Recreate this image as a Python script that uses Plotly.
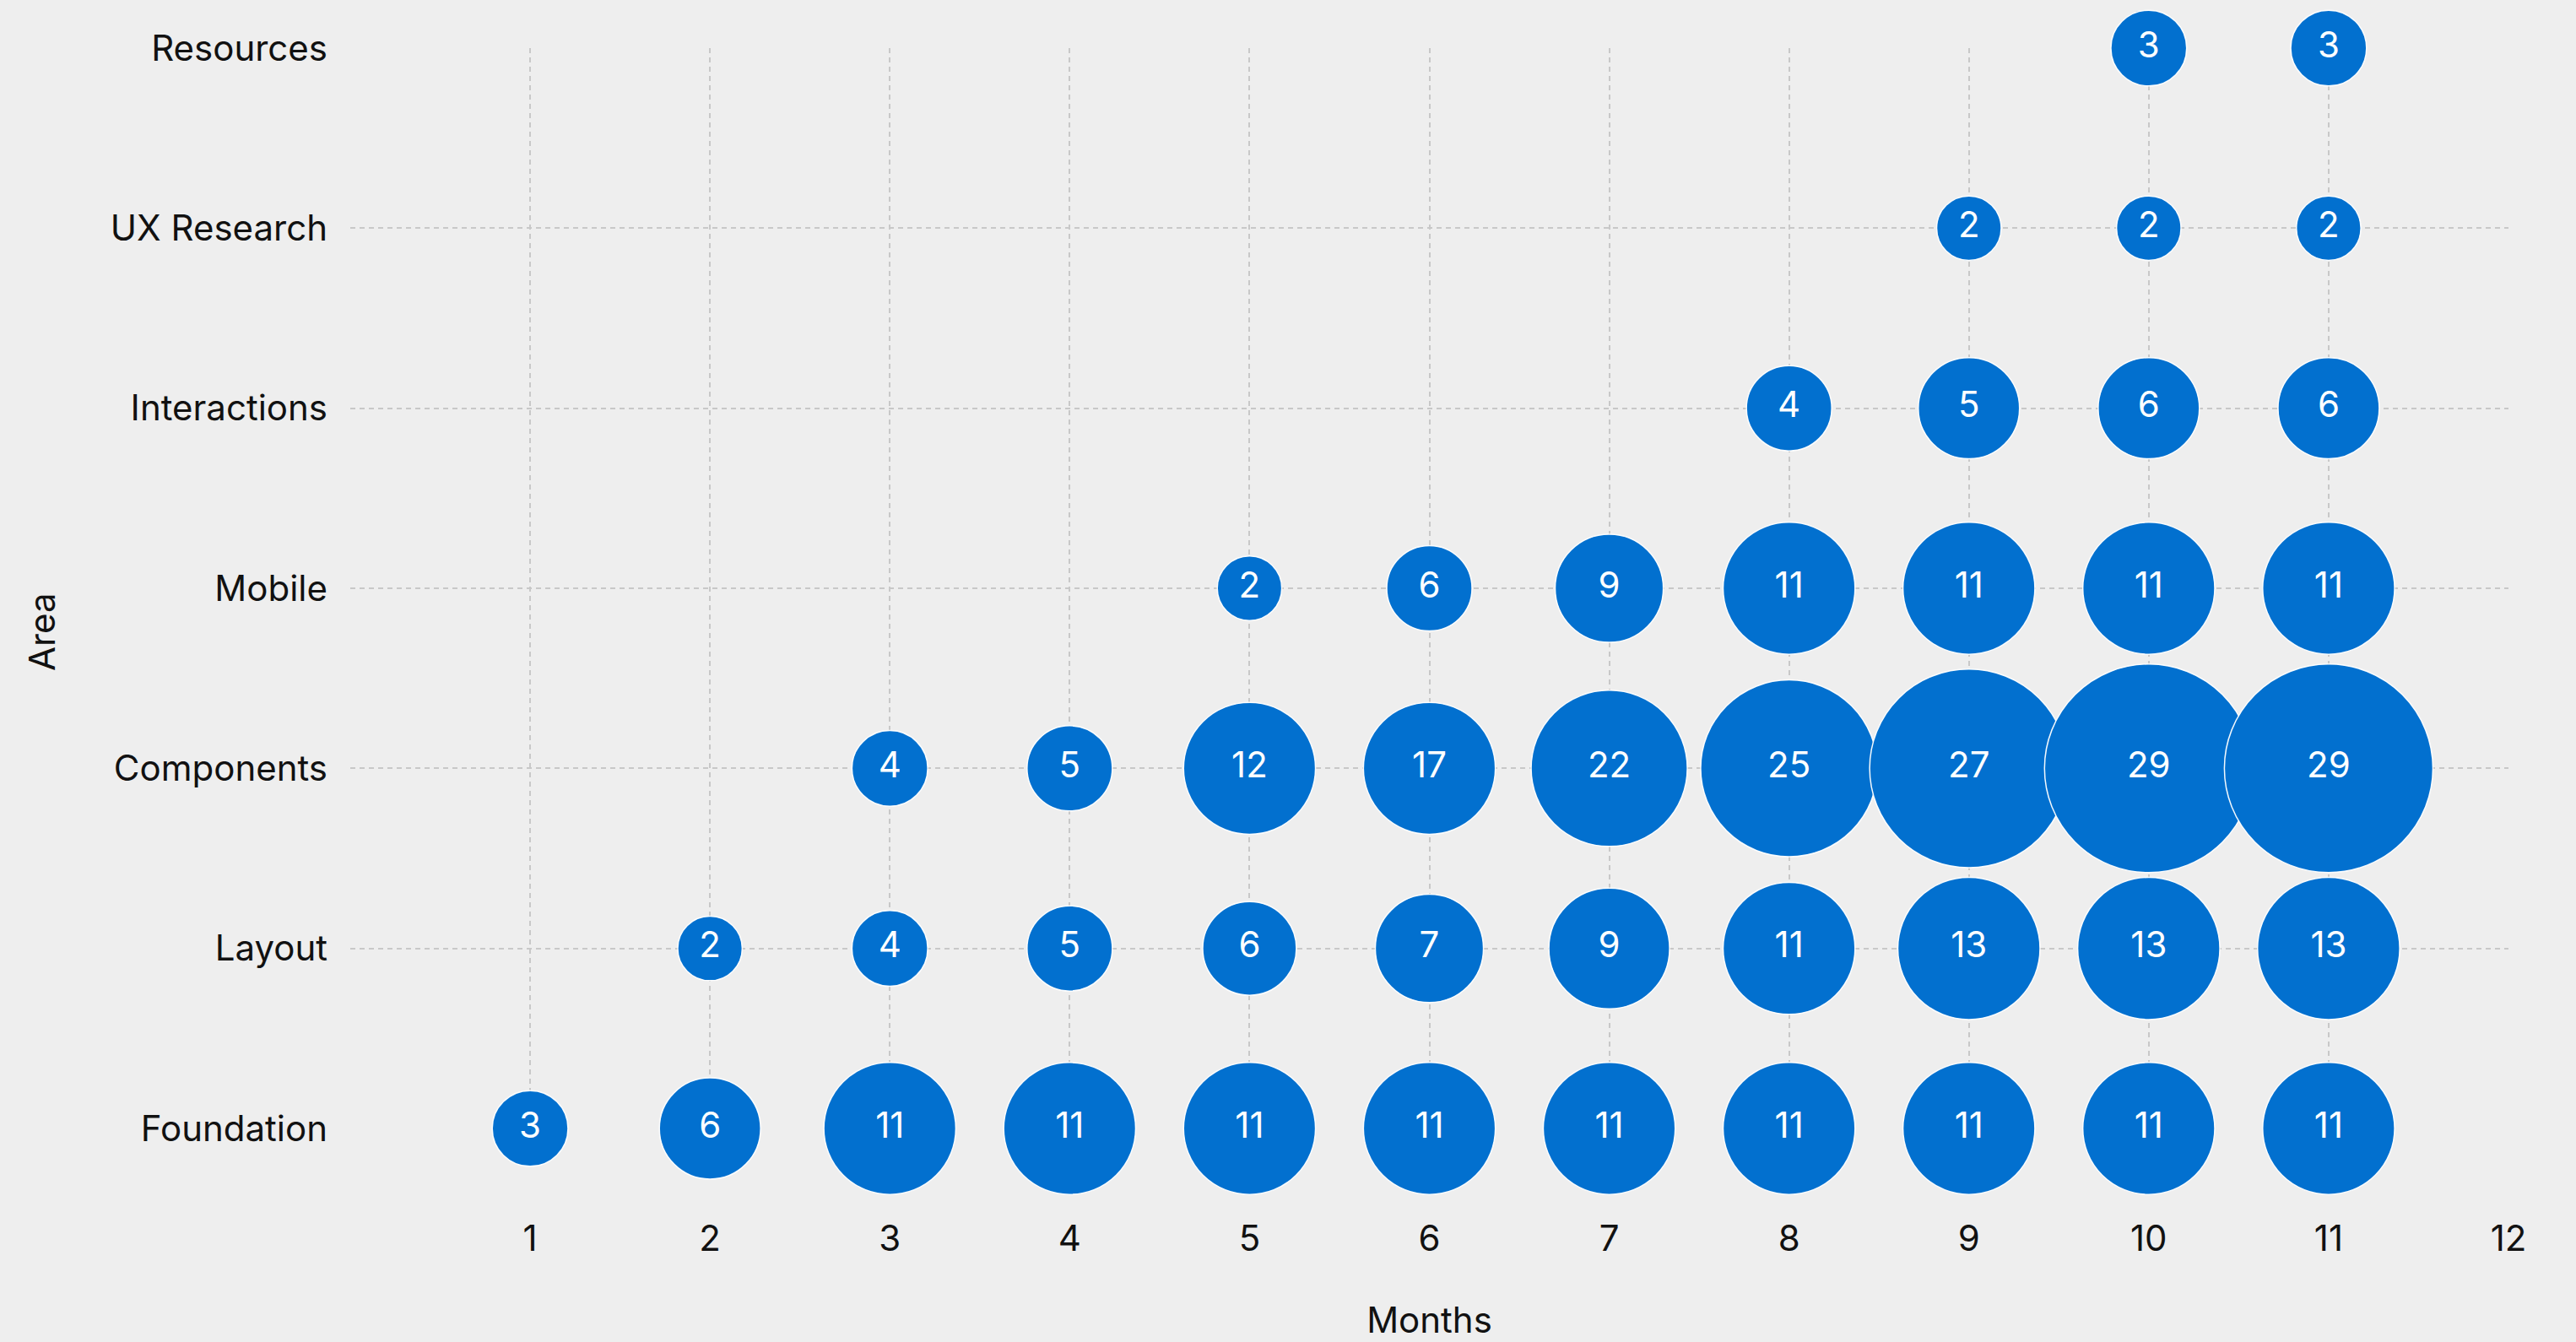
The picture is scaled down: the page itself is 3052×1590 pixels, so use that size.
import math
import plotly.graph_objects as go

# ---------------- data ----------------
areas = ["Foundation", "Layout", "Components", "Mobile", "Interactions", "UX Research", "Resources"]
x_tick_values = list(range(0, 13))
x_tick_labels = [""] + [str(m) for m in range(1, 13)]

foundation_months = [1, 2, 3, 4, 5, 6, 7, 8, 9, 10, 11]
foundation_counts = [3, 6, 11, 11, 11, 11, 11, 11, 11, 11, 11]
foundation_weight = [3, 6, 11, 11, 11, 11, 11, 11, 11, 11, 11]

layout_months = [2, 3, 4, 5, 6, 7, 8, 9, 10, 11]
layout_counts = [2, 4, 5, 6, 7, 9, 11, 13, 13, 13]
layout_weight = [2, 3, 4, 5, 7, 9, 11, 13, 13, 13]

components_months = [3, 4, 5, 6, 7, 8, 9, 10, 11]
components_counts = [4, 5, 12, 17, 22, 25, 27, 29, 29]
components_weight = [3, 4, 11, 11, 16, 21, 27, 30, 30]

mobile_months = [5, 6, 7, 8, 9, 10, 11]
mobile_counts = [2, 6, 9, 11, 11, 11, 11]
mobile_weight = [2, 4, 7, 11, 11, 11, 11]

interactions_months = [8, 9, 10, 11]
interactions_counts = [4, 5, 6, 6]
interactions_weight = [4, 6, 6, 6]

ux_months = [9, 10, 11]
ux_counts = [2, 2, 2]
ux_weight = [2, 2, 2]

resources_months = [10, 11]
resources_counts = [3, 3]
resources_weight = [3, 3]

rows = [
    ("Foundation", foundation_months, foundation_counts, foundation_weight),
    ("Layout", layout_months, layout_counts, layout_weight),
    ("Components", components_months, components_counts, components_weight),
    ("Mobile", mobile_months, mobile_counts, mobile_weight),
    ("Interactions", interactions_months, interactions_counts, interactions_weight),
    ("UX Research", ux_months, ux_counts, ux_weight),
    ("Resources", resources_months, resources_counts, resources_weight),
]

# ---------------- style ----------------
FONT = "Inter, Roboto, 'Noto Sans', sans-serif"
BG = "#EEEEEE"
BUBBLE = "#0270CF"
GRID = "#C8C8C8"
TXT = "#111111"


def diameter(w):
    # square-root size scale with a small floor
    return 17 + 42 * math.sqrt(w)


fig = go.Figure()
for name, months, counts, weight in rows:
    fig.add_trace(go.Scatter(
        x=months,
        y=[name] * len(months),
        mode="markers+text",
        text=[str(c) for c in counts],
        textposition="middle center",
        textfont=dict(family=FONT, size=42, color="white"),
        marker=dict(
            size=[diameter(w) for w in weight],
            sizemode="diameter",
            color=BUBBLE,
            opacity=1,
            line=dict(color="rgba(255,255,255,0.95)", width=1.5),
        ),
        cliponaxis=False,
        hoverinfo="skip",
        showlegend=False,
        name=name,
    ))

fig.update_layout(
    width=3052,
    height=1590,
    margin=dict(l=415, r=80, t=57, b=253),
    paper_bgcolor=BG,
    plot_bgcolor=BG,
    font=dict(family=FONT, size=42, color=TXT),
    showlegend=False,
    annotations=[dict(
        text="Area",
        xref="paper", yref="paper",
        x=(49 - 415) / 2557, y=(1337 - 749) / 1280,
        xanchor="center", yanchor="middle",
        textangle=-90,
        showarrow=False,
        font=dict(family=FONT, size=42, color=TXT),
    )],
)

fig.update_xaxes(
    range=[0, 12],
    tickmode="array",
    tickvals=x_tick_values,
    ticktext=x_tick_labels,
    showgrid=True,
    gridcolor=GRID,
    gridwidth=2,
    griddash="6px,5px",
    zeroline=False,
    showline=False,
    ticks="",
    ticklabelstandoff=102,
    tickfont=dict(family=FONT, size=42, color=TXT),
    title=dict(text="Months", font=dict(family=FONT, size=42, color=TXT), standoff=58),
    automargin=False,
)

fig.update_yaxes(
    type="category",
    categoryorder="array",
    categoryarray=areas,
    range=[0, 6],
    showgrid=True,
    gridcolor=GRID,
    gridwidth=2,
    griddash="6px,5px",
    zeroline=False,
    showline=False,
    ticks="",
    ticklabelstandoff=26,
    tickfont=dict(family=FONT, size=42, color=TXT),
    automargin=False,
)

fig.write_html("out.html")
